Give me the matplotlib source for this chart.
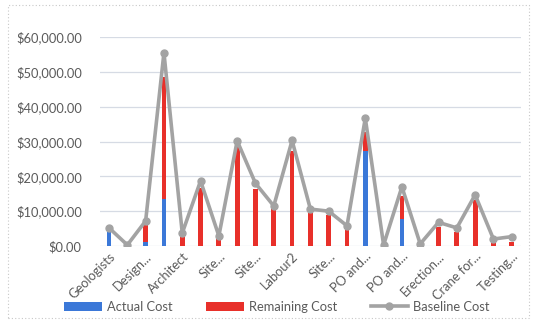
import matplotlib.pyplot as plt
import numpy as np
from matplotlib.ticker import FuncFormatter
from matplotlib.patches import Rectangle

# ---- data ----
tick_labels = ["Geologists", "Design...", "Architect", "Site...", "Site...", "Labour2",
               "Site...", "PO and...", "PO and...", "Erection...", "Crane for...", "Testing..."]
actual = [4000, 0, 1200, 13500, 0, 0, 0, 0, 0, 0, 0, 0,
          0, 0, 27400, 0, 7800, 0, 0, 0, 0, 0, 0]
remaining = [0, 0, 4800, 35000, 2600, 16700, 2000, 28700, 16500, 10600, 27400, 9600,
             8900, 4900, 5400, 0, 6700, 0, 5500, 4000, 13200, 1000, 1200]
baseline = [5200, 300, 7200, 55500, 3700, 18700, 2900, 30200, 18000, 11500, 30300, 10600,
            10000, 5800, 36700, 300, 17000, 600, 6800, 5200, 14700, 2000, 2700]

c_blue = "#3b78d8"
c_red = "#e8302a"
c_grey = "#a3a3a3"
c_text = "#5a5a5a"

plt.rcParams['font.family'] = ['Lato', 'DejaVu Sans']

fig = plt.figure(figsize=(5.37, 3.21), dpi=100)
fig.patches.append(Rectangle((0.015, 0.01), 0.97, 0.975, transform=fig.transFigure,
                             fill=False, edgecolor="#c8c8c8", linestyle=(0, (1, 2)), lw=0.8))
ax = fig.add_axes([0.186, 0.2336, 0.784, 0.651])

x = np.arange(len(baseline))
b1 = ax.bar(x, actual, width=0.26, color=c_blue, label="Actual Cost", zorder=2)
b2 = ax.bar(x, remaining, width=0.26, bottom=actual, color=c_red, label="Remaining Cost", zorder=2)
ln, = ax.plot(x, baseline, color=c_grey, lw=2.6, marker="o", markersize=5, label="Baseline Cost", zorder=3)

ax.set_xlim(-0.5, len(baseline) - 0.5)
ax.set_ylim(0, 60000)
ax.set_yticks(np.arange(0, 60001, 10000))
ax.yaxis.set_major_formatter(FuncFormatter(lambda v, p: "${:,.2f}".format(v)))
ax.grid(axis="y", color="#d6dbe4", lw=0.9, zorder=0)
for s in ax.spines.values():
    s.set_visible(False)
ax.tick_params(axis="both", length=0, colors=c_text, labelsize=9.3)
ax.tick_params(axis="y", pad=13)

ax.set_xticks(x[::2])
ax.set_xticklabels(tick_labels, rotation=45, ha="right", rotation_mode="anchor", fontsize=9.3)
ax.tick_params(axis="x", pad=3)

ax.legend([b1, b2, ln], ["Actual Cost", "Remaining Cost", "Baseline Cost"],
          loc="center", bbox_to_anchor=(0.516, 0.045), bbox_transform=fig.transFigure,
          ncol=3, frameon=False, fontsize=9.3, labelcolor=c_text, handlelength=2.9,
          columnspacing=2.6, handletextpad=0.4)

fig.savefig("out.png", dpi=100)
